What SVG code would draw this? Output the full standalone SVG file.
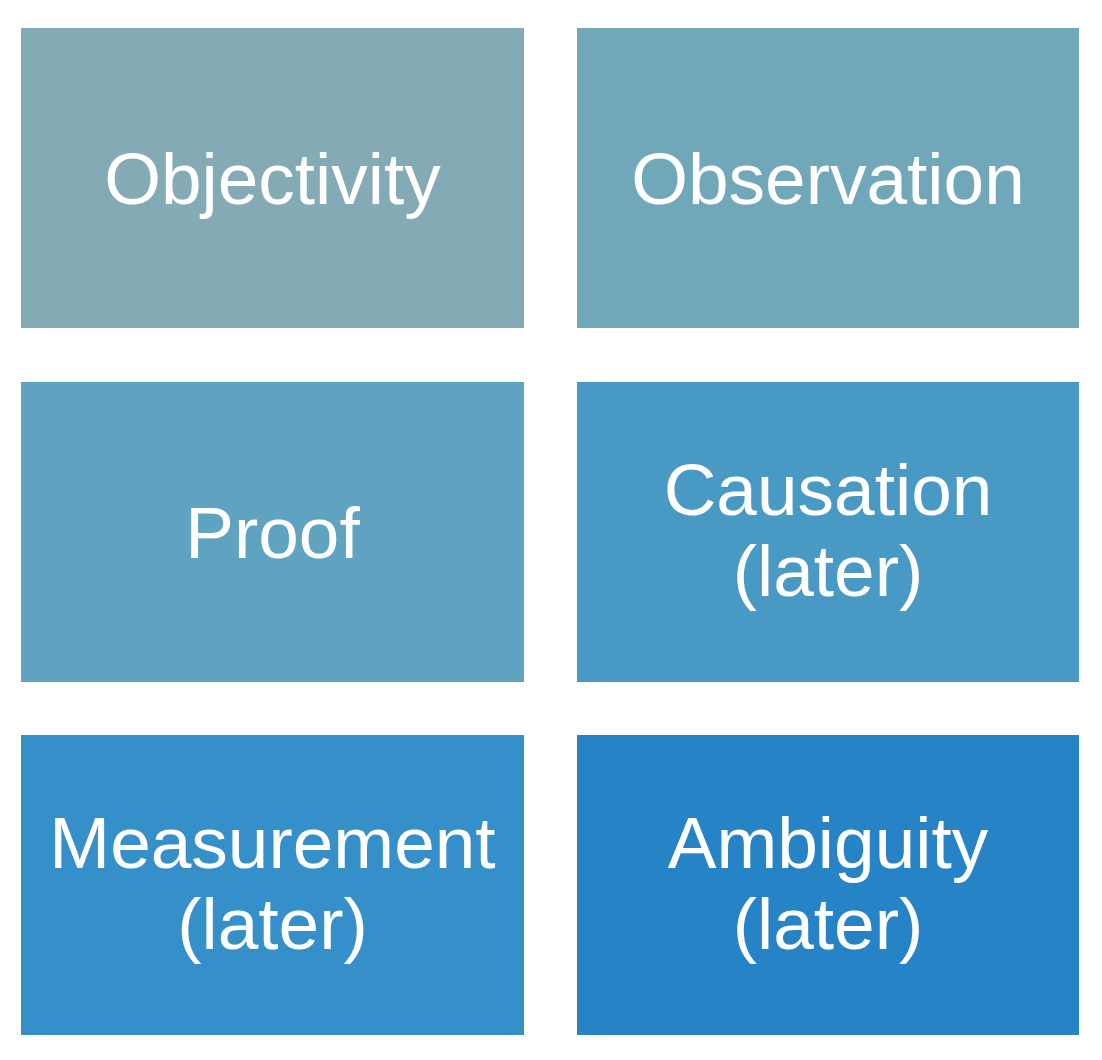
<svg xmlns="http://www.w3.org/2000/svg" width="1102" height="1060" viewBox="0 0 1102 1060">
  <style>
    .box { stroke: none; }
    .label { font-family: "Liberation Sans", Arial, sans-serif; font-size: 73px; fill: #ffffff; text-anchor: middle; }
  </style>
  <rect width="1102" height="1060" fill="#ffffff"/>
  <g id="connectors"/>
  <g id="objectivity">
    <rect class="box" x="21" y="28" width="503" height="300" fill="#84abb5"/>
    <text class="label" x="272.5" y="204">Objectivity</text>
  </g>
  <g id="observation">
    <rect class="box" x="577" y="28" width="502" height="300" fill="#70a8ba"/>
    <text class="label" x="828" y="204">Observation</text>
  </g>
  <g id="proof">
    <rect class="box" x="21" y="382" width="503" height="300" fill="#5fa3c0"/>
    <text class="label" x="272.5" y="558">Proof</text>
  </g>
  <g id="causation">
    <rect class="box" x="577" y="382" width="502" height="300" fill="#4899c4"/>
    <text class="label" x="828" y="515">Causation</text>
    <text class="label" x="828" y="596">(later)</text>
  </g>
  <g id="measurement">
    <rect class="box" x="21" y="735" width="503" height="300" fill="#3590ca"/>
    <text class="label" x="272.5" y="868">Measurement</text>
    <text class="label" x="272.5" y="949">(later)</text>
  </g>
  <g id="ambiguity">
    <rect class="box" x="577" y="735" width="502" height="300" fill="#2683c6"/>
    <text class="label" x="828" y="868">Ambiguity</text>
    <text class="label" x="828" y="949">(later)</text>
  </g>
</svg>
